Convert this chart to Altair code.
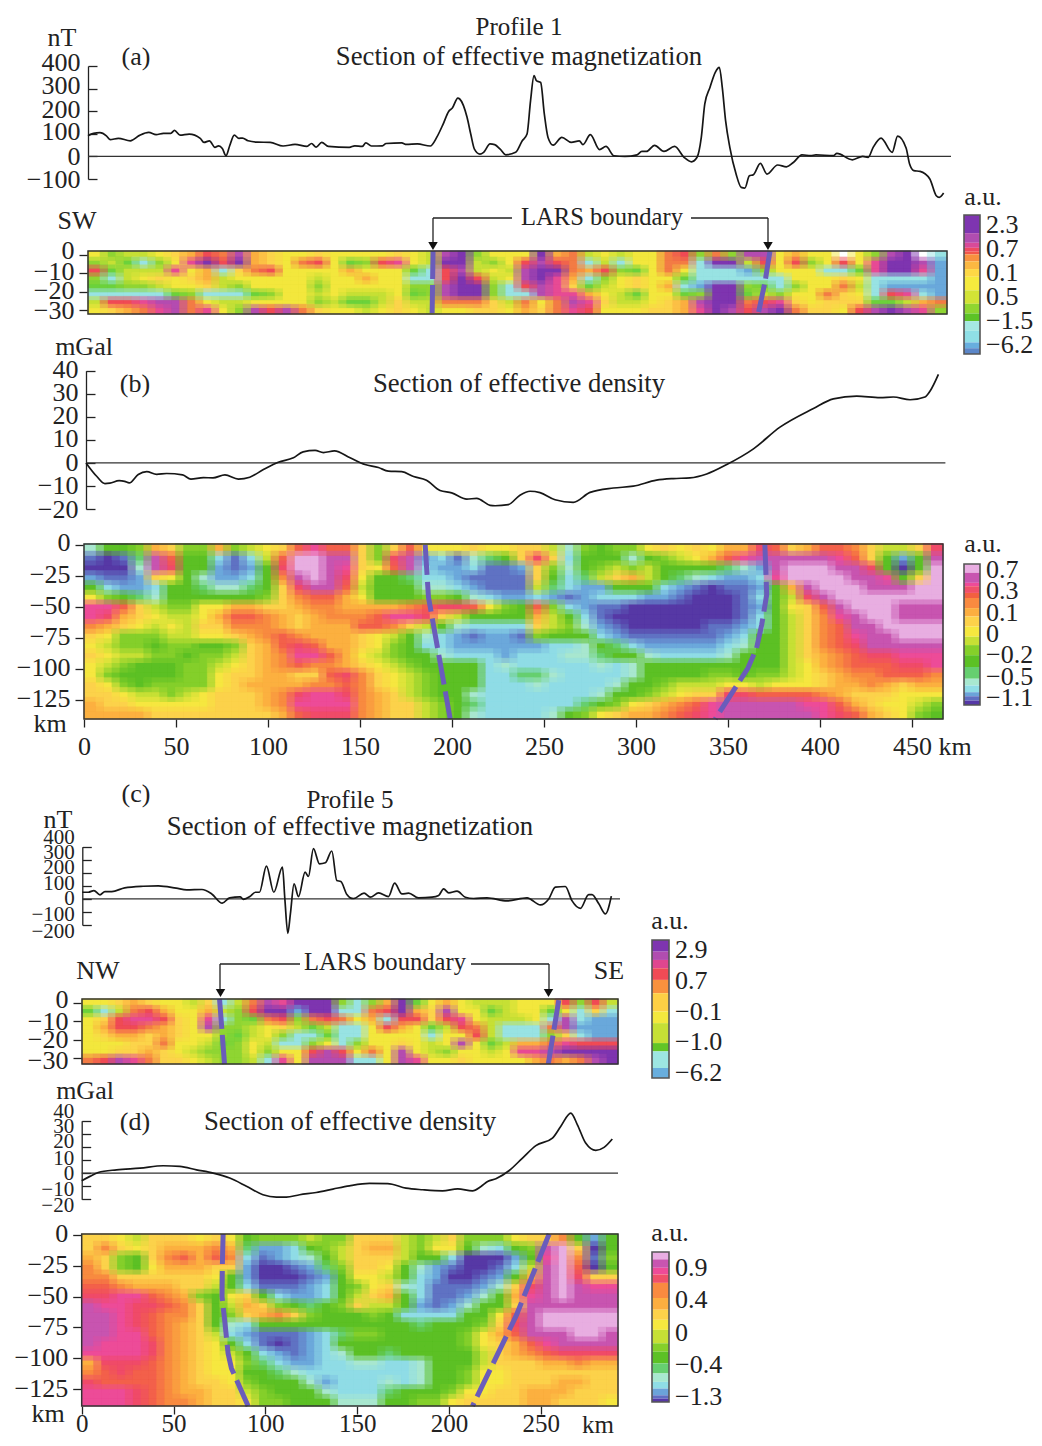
import altair as alt
import pandas as pd

W, H = 1026, 1430
FONT = "Liberation Serif"
INK = "#222222"
BOUNDARY = "#6a5cbb"

# ---------- colour classes ----------
DENS = dict(a="#5638a6", b="#5f72c4", c="#6ba8dc", d="#8fdde6", e="#a8e8d0", f="#66cf70", g="#5cc125", h="#85d02a",
            i="#c6e035", j="#f6e83f", k="#fdd24a", l="#fcb040", m="#f98a40", n="#f4604a", o="#f04a68", p="#ee4b98",
            q="#c855b0", r="#e9aee2")
MAG = dict(B="#6aa9dc", C="#98e3e3", E="#6bd23b", F="#8fd632", G="#c6e035", H="#f3e83d", I="#fdd44a", J="#fbae40",
           K="#f47c45", L="#f04a55", M="#e84a95", N="#b54cb0", O="#7e35b0", W="#ffffff")

# ---------- profile curves (km, value) ----------
a_km = [0,3,6.5,10,12,16.5,23,28,33,37,41,45,47,50,55,61,63,66,69,71,73,75,77,79.5,82,84,87,92,99,106,112.5,119,121.5,124,127,130.6,142,145,149,151,154,160,162,170.5,173,179,186,189.5,193,196,198,201,202,206,208,210,213,215,218.5,221,224,227,232.4,236,238.6,240.5,242.4,243.7,246,248,250,252.8,257.5,262.6,267,269,273,278,281.5,285.8,291.8,298.4,301,303.5,307.9,313,318.8,323.9,328,331,333.3,335.2,338,340.9,343.1,344.7,346.5,348.8,352.2,355,357,359.4,361.6,365.4,369,374.8,379.6,383.3,388,392.8,395.6,405,407,415.4,421,424,426.7,431,437,440,444.6,446.5,448.8,452.2,457.5,461,462.6,465]
a_nt = [91,102,105,91,74,80,69,93,106,96,102,102,115,94,99,80,62,69,40,47,35,3,47,94,80,81,69,63,62,46,53,44,57,41,62,44,40,47,44,60,46,47,57,60,53,55,46,84,143,199,214,258,254,173,99,32,10,18,55,52,32,7,18,69,99,246,357,335,327,187,84,50,84,62,69,52,96,30,44,3,0,7,22,22,49,22,44,-4,-24,-4,84,232,305,372,394,305,158,40,-78,-137,-140,-86,-81,-31,-78,-38,-46,-27,7,3,7,3,13,-15,0,-4,40,81,18,90,37,-34,-63,-66,-100,-174,-181,-162]
b_km = [0,5.8,10.3,13,18,21,23.5,28.4,33,38.4,43.8,52.5,57,63.8,69,75.5,82.8,89,96.4,104.5,112.7,118,124.5,129,135,143.5,151.6,158.9,164.3,171.6,178,185,192.4,198.7,206.9,212.3,219.6,222.3,229.5,235.8,241.3,246.7,254.9,264.8,273.9,286.6,297.4,310,319.2,328.2,337.3,348.2,362.7,377.1,395.3,406.1,418.8,431.5,438.7,447.8,455.9,458.7,463.2]
b_mgal = [0,-5.8,-9,-8.8,-7.7,-8,-8.7,-5,-3.8,-5,-4.6,-5.2,-7,-6.4,-6.5,-5.2,-7,-6.2,-2.9,0.3,2.2,4.8,5.4,4.5,5.2,2.2,-0.7,-2,-3.6,-3.8,-5.9,-7.5,-12,-13,-15.7,-15.4,-18.4,-18.6,-18.1,-14,-12.3,-12.9,-16,-17.1,-12.8,-10.9,-10.1,-7.5,-6.8,-6.5,-4.8,-0.7,6.1,15.5,23.6,27.8,29,28.3,28.6,27.4,28.6,31.2,38.4]
c_km = [0,3.3,6.3,9.6,12.3,16,23,33,41.3,51,56.7,65,70.3,76,80,85.7,87.5,91,94,96.2,100,104,108.7,110,111.6,113,115,117.4,121,122.8,125.5,128.8,132,135.5,138.2,140.4,143.7,145.5,147.3,153,156.4,160.9,166.3,169.6,173.6,177.2,182.6,189.9,193.5,196.2,199,203.5,208,212.5,219.8,230.6,241.5,248.8,253.3,256.9,262.3,265.9,270.5,275,276.8,280.5,284.1,287.3]
c_nt = [51,51,64,31,56,56,85,97,100,82,69,72,38,-33,8,15,-3,18,51,51,251,51,244,0,-264,-115,115,18,205,172,385,269,277,367,141,133,33,8,3,44,13,46,18,121,38,44,8,13,26,77,46,59,13,3,8,-15,8,-46,0,90,95,-13,-72,33,33,-38,-115,21]
d_km = [0,4.5,9,19,31.7,44.4,53.4,62.5,71.6,80.6,89.7,98.7,106,111.4,118.7,127.7,136.8,145.8,156.7,166.6,176.6,185.7,196.5,204.7,212.8,217.4,221,225.5,232.8,240,247.3,256.3,260.8,266.3,269.9,274.4,279.9,284.4,288.9]
d_mgal = [-5.9,-2.5,0.5,2.5,3.8,5.6,5.1,2.5,0,-3.8,-10,-16.5,-18.3,-18.3,-16.5,-14.8,-12.2,-9.7,-7.9,-8,-11.5,-12.7,-13.5,-12,-13.5,-10.2,-6.4,-4.3,2,11.5,21,26.7,35.6,45.8,36.9,22.9,17.3,19.6,26]

# ---------- LARS boundaries (km, depth) ----------
a_left = ([187.5, 187.0], [2, -32])
a_right = ([370.6, 368.3, 367.4, 364.2], [2, -12.3, -17, -32])
b_left = ([185.4, 187.2, 199], [0, -42, -140])
b_right = ([370, 371, 368.3, 365.5, 360.8, 355.2, 343], [0, -40, -64, -83, -99, -112, -140])
c_left = ([74.8, 77.5], [2, -33.1])
c_right = ([259.3, 253.6], [1.4, -33])
d_left = ([77, 76.6, 76.4, 77.9, 79.7, 81.5, 90.6], [0.8, -23, -50, -70, -96, -108, -138.7])
d_right = ([254.5, 236.4, 212.8], [0.8, -66, -138.7])

# ---------- section grids: one letter per cell, colour class ----------
grid_a = [
 "HFGGHIJLKNJIHHIHHHHIHGNOFHH"+"HOJKGHGHHKLFKFNNHJHHWHFNOWC",
 "FGECFHMOLOJIHKLHEFLMHGOOGFH"+"LNLKCGCHHKKCOOGLHLFHLHMOONB",
 "LEGGGMHJCIKLHHHHJHHHECLNGHG"+"NOOKJLFEHKHCCCBFHHHCCEMOOMB",
 "FCGHIHIJGHHHHHGHHJHHCCLOLGH"+"NOMJCFHIHHECCCCCCHHHIHCCCCB",
 "EEFFGHHIGFHHHHFHHHHHFFNOOFC"+"LNMIEGHIHJCBOOFECFHHKGCBBBB",
 "CCCCCEFCCCEFHHGHGGGHEFNOOFC"+"CNMMJHGEHHEFOOEGFHHKIHCLMCB",
 "GLLMNNKHGGHHHHFGEEGIGGKKKIG"+"KHKNMIGGHIJNOOKLMIHIIIEEGJK",
 "HIJKMNKMHFNLNKIHHGHIHGHHIIH"+"JIKMLHHHIIJMONLNOKIIHLNONMF",
]
grid_b = [
 "egghlkhhlhijknpnnkhknjjjkjjk"+"kiehghhjkjkjllonklnnmkiiko",
 "babfqnggdbdinrrqqkhoqcdbefgk"+"okdgggeghijlnpqqqqqpnkgcgq",
 "aaaeqoggcbcgorrqpkjnqdccdbbc"+"kheghihiggggfecqrrrqqogagr",
 "cbbckjgeccdgmqrqojggfddcbbbb"+"kgdfikligfedccdprrrrqqpgkr",
 "gdccdggfeefgkoqqnigggeedcbbb"+"ifdccgggdcbabbcglqrrrqqqrr",
 "jhgfegggggghkmnnljggghhgedcc"+"dcbcdddccbaaabdgioqrrrrrrr",
 "ppnkihhjjllkklmmllllmnoonjhg"+"nhdcbbaaaaaaabcgjknqrrrqqq",
 "polkjiijlnnmlklmmmnppokigggg"+"ligdbaaaaaaaabdgikmpqrrqqq",
 "mlkjijikkmmmlklllnnmkigedddd"+"kihecbaaaaabbcdgikmnqqrrrr",
 "kjhhhiijjklmnmlllkjigedcbccb"+"hgggdcbbbbbbcdggikmnpqqrrr",
 "jihhghhgghklnonllkjhgddccccc"+"cddegfdcccccdeggikmnoqqqqq",
 "kjiihhghhiklmppnljihggedddcd"+"ddeefggeddddegggiklmnooppp",
 "jihggghhijklmnmmlkjihggggded"+"ddddede"+"ggggggggg"+"ijlmnnnoop",
 "jhgggghhjkkllkknomkjihgggddf"+"feddddegggghhghhijklmmnnnm",
 "kjhghhhhjkllllmmnmkjihgggddd"+"eddddegghiiijjijjjkllmlkll",
 "kkjiihijkkklmoppomlkihggeddd"+"ddddegghijkkoonnnnmlkkkjjj",
 "lkkjjjjjkkklmppppmlkkihgfddd"+"dddfghjklmnpqqqqqppnlkjjih",
 "llllkkkkkkkklnooomlkkihgeddd"+"deghjkllmnopqqqqqqponlkjhg",
]
grid_c = [
 "HHIJIHHGICGKNMOOOF"+"CFJOEHJHGGGHHHLFLG",
 "ECGKLJHHJGFLOOBOOC"+"CKLOJINHHEGHHEHCIC",
 "HILMMLIHMCFEKLFKLK"+"HJCLLILMHGGGHCNCBB",
 "HJLLKJIHNFFGHIGEGC"+"CHLJHEGLKGCCCKNBBB",
 "HIJJIJIHHFEGHFCCEC"+"CHHHHCHHLGCCCFICBB",
 "HHHIIKHHGEFHGCCFHC"+"FHHIHGHNHEGJJKMLLL",
 "HHIIJIHGFFFHFHHLNL"+"HKHNHGFHHGHMMNOOOO",
 "KLNMKIIHGFFGCMHNNN"+"CCHNMHHIHHHHJKJKNO",
]
grid_d = [
 "kkjikkkjkjghhhihhk"+"kkihikhhhjkkmgcg",
 "kmkjklllmlfccdghik"+"llihjjgedghqrkag",
 "lkhgkmnlnmdbcdegik"+"kkiggdaaacgprmbh",
 "mkhgjlllkkcaabcfhk"+"kjgecbaabdiqrnag",
 "mmkkkkkkjgcaaabcgj"+"jigdcaabcglqrokk",
 "nnmlllkkigdbbbcdgh"+"jkedbbbcekoqrqpp",
 "ooppnmlhgjkgdccdgi"+"klgdbbceglpqrqqq",
 "qppoonmkgilkhgfghk"+"iigcbceggkqqqqqq",
 "qqponmmkghklmkhggg"+"hgddddggjnqrrrrr",
 "qqponmlkgedggggggg"+"gggfggghkoqrrrrr",
 "qqppnmlkidcbbbcdfh"+"hggggghjlnqqqrrq",
 "qpppomlkjgdbabcdgg"+"gggggghjklnpqqqq",
 "ppppomlkjigdcbcdeg"+"gfgggggiklmnoooo",
 "looonmlkjjhfdccdde"+"eddegggikkkllmll",
 "mnonnmlkjjggfedddd"+"dddegghjjkkkkkkk",
 "onnnnmlkkjhgggecdd"+"dedegghjjkkkllkk",
 "ppponmllkkihgggedd"+"dfggghjjkklllkkk",
 "ppponmmlkkjhhgggee"+"egghhjkkkkllkkkj",
]

# ---------- colour bars: (colour, relative height), labels ----------
bar_a = [("#7e35b0",47),("#b04db0",25),("#d84a98",13),("#ee4a60",10),("#f2574a",7),("#f8913e",18),("#fbb842",20),("#fdd845",20),("#f5ea3d",35),("#d2e336",35),("#90d630",25),("#5cc326",20),("#a5e8e2",25),("#8fdfe6",30),("#68aede",15),("#5b86c8",15)]
bar_b = [("#e9aee2",26),("#c855b0",30),("#ee4b98",10),("#f0506a",20),("#f26040",15),("#f98a40",30),("#fcae40",25),("#fdd24a",30),("#f6e83f",30),("#c6e035",25),("#85d02a",30),("#5cc125",35),("#66cf70",35),("#a8e8d0",20),("#8fdde6",20),("#6ba3d9",12),("#5f6fc2",13),("#5638a6",13)]
bar_c = [("#7e35b0",35),("#b04db0",25),("#e0468f",25),("#f04a55",35),("#f8913e",40),("#fdd045",55),("#f3e83d",35),("#c6e035",60),("#62c526",25),("#9de6e2",50),("#68aede",30)]
bar_d = [("#e9aee2",22),("#c855b0",25),("#ee4b98",20),("#f0506a",25),("#f98a40",45),("#fcae40",35),("#fdd24a",30),("#f6e83f",30),("#c6e035",40),("#85d02a",25),("#5cc125",35),("#66cf70",30),("#a8e8d0",25),("#8fdde6",20),("#6ba3d9",20),("#5f6fc2",10),("#5638a6",10)]
lab_a = ["2.3","0.7","0.1","0.5","\u22121.5","\u22126.2"]
lab_b = ["0.7","0.3","0.1","0","\u22120.2","\u22120.5","\u22121.1"]
lab_c = ["2.9","0.7","\u22120.1","\u22121.0","\u22126.2"]
lab_d = ["0.9","0.4","0","\u22120.4","\u22121.3"]


def PX(p):
    return p - 8


def PY(p):
    return p - 8


ONE = alt.Data(values=[{}])
layers = []


def add(ch):
    layers.append(ch)


def text(s, x, y, size=26, align="center"):
    add(alt.Chart(ONE).mark_text(text=s, font=FONT, fontSize=size, color=INK, align=align, baseline="middle")
        .encode(x=alt.value(PX(x)), y=alt.value(PY(y))))


def hline(x0, x1, y, color=INK, w=1.3):
    add(alt.Chart(ONE).mark_rule(color=color, strokeWidth=w)
        .encode(x=alt.value(PX(x0)), x2=alt.value(PX(x1)), y=alt.value(PY(y))))


def vline(x, y0, y1, color=INK, w=1.3):
    add(alt.Chart(ONE).mark_rule(color=color, strokeWidth=w)
        .encode(x=alt.value(PX(x)), y=alt.value(PY(y0)), y2=alt.value(PY(y1))))


def arrow(x, y):
    add(alt.Chart(ONE).mark_point(shape="triangle-down", filled=True, color="#111111", size=90, opacity=1)
        .encode(x=alt.value(PX(x)), y=alt.value(PY(y))))


def frame(x0, x1, y0, y1, color="#333333", w=1.5):
    add(alt.Chart(ONE).mark_rect(fill=None, filled=False, stroke=color, strokeWidth=w)
        .encode(x=alt.value(PX(x0)), x2=alt.value(PX(x1)), y=alt.value(PY(y0)), y2=alt.value(PY(y1))))


def off_cond(pairs):
    return {"condition": [{"test": f"datum.value==={v}", "value": o} for v, o in pairs], "value": 0}


def curve(km, val, xscale, yscale, ticks, offsets, axis_x, size, pad=-17):
    df = pd.DataFrame({"km": km, "v": val})
    add(alt.Chart(df).mark_line(color="#161616", strokeWidth=1.7, interpolate="monotone").encode(
        x=alt.X("km:Q", scale=xscale, axis=None),
        y=alt.Y("v:Q", scale=yscale, axis=alt.Axis(
            orient="right", offset=PX(axis_x) - W, values=ticks, title=None, grid=False, format="d",
            labelFont=FONT, labelFontSize=size, labelColor=INK, labelAlign="right", labelPadding=pad,
            labelOffset=off_cond(list(zip(ticks, offsets))), labelFlush=False, labelOverlap=False, labelBound=False,
            tickSize=9, tickColor=INK, tickWidth=1.3, domainColor=INK, domainWidth=1.3))))


def zero_line(x0, x1, xscale, yscale):
    df = pd.DataFrame({"km": [x0, x1], "v": [0, 0]})
    add(alt.Chart(df).mark_line(color="#333333", strokeWidth=1.2).encode(
        x=alt.X("km:Q", scale=xscale, axis=None), y=alt.Y("v:Q", scale=yscale, axis=None)))


def heat(grid, pal, xscale, yscale, kmax, dtop, dbot):
    """Each cell is drawn four times, a quarter cell to each side, so that the edges between classes soften."""
    nr, nc = len(grid), max(len(r) for r in grid)
    dx = kmax / nc
    dy = (dbot - dtop) / nr
    passes = [(-0.25, -0.25, 1.0), (0.25, -0.25, 1 / 2), (-0.25, 0.25, 1 / 3), (0.25, 0.25, 1 / 4)]
    for sxx, syy, op in passes:
        rows = []
        for j, row in enumerate(grid):
            for i, c in enumerate(row):
                x0 = 0 if i == 0 else (i + sxx) * dx
                x1 = kmax if i == nc - 1 else (i + 1 + sxx) * dx
                d0 = dtop if j == 0 else dtop + (j + syy) * dy
                d1 = dbot if j == nr - 1 else dtop + (j + 1 + syy) * dy
                rows.append({"x0": x0, "x1": x1, "d0": d0, "d1": d1, "hex": pal[c]})
        base = op == 1.0
        mk = alt.Chart(pd.DataFrame(rows)).mark_rect(opacity=op, strokeWidth=0.8 if base else 0)
        enc = dict(x=alt.X("x0:Q", scale=xscale, axis=None), x2="x1:Q",
                   y=alt.Y("d0:Q", scale=yscale, axis=None), y2="d1:Q",
                   fill=alt.Fill("hex:N", scale=None, legend=None))
        if base:
            enc["stroke"] = alt.Stroke("hex:N", scale=None, legend=None)
        add(mk.encode(**enc))


def boundary(line, xscale, yscale, dash, xaxis=None, yaxis=None):
    df = pd.DataFrame({"km": line[0], "d": line[1], "i": range(len(line[0]))})
    add(alt.Chart(df).mark_line(color=BOUNDARY, strokeWidth=5, strokeDash=dash).encode(
        x=alt.X("km:Q", scale=xscale, axis=xaxis),
        y=alt.Y("d:Q", scale=yscale, axis=yaxis),
        order="i:Q"))


def section_yaxis(x, ticks, offsets, size=26):
    return alt.Axis(orient="left", offset=-PX(x), values=ticks, title=None, grid=False, domain=False, format="d",
                    labelFont=FONT, labelFontSize=size, labelColor=INK, labelPadding=5,
                    labelOffset=off_cond(list(zip(ticks, offsets))),
                    labelOverlap=False, labelBound=False, labelFlush=False,
                    tickSize=9, tickColor=INK, tickWidth=1.3)


def section_xaxis(y, ticks, size, pad=6):
    return alt.Axis(orient="bottom", offset=PY(y) - H, values=ticks, title=None, grid=False, domain=False, format="d",
                    labelFont=FONT, labelFontSize=size, labelColor=INK, labelPadding=pad,
                    labelOverlap=False, labelBound=False, labelFlush=False,
                    tickSize=8, tickColor=INK, tickWidth=1.3)


def colorbar(bands, labels, x0, x1, top, bot, ltop, lbot, lx, size=26):
    tot = sum(b[1] for b in bands)
    rows, acc = [], 0
    for c, h in bands:
        rows.append({"y0": acc, "y1": acc + h, "hex": c})
        acc += h
    add(alt.Chart(pd.DataFrame(rows)).mark_rect().encode(
        x=alt.value(PX(x0)), x2=alt.value(PX(x1)),
        y=alt.Y("y0:Q", scale=alt.Scale(domain=[0, tot], range=[PY(top), PY(bot)], nice=False, zero=False), axis=None),
        y2="y1:Q",
        fill=alt.Fill("hex:N", scale=None, legend=None)))
    frame(x0, x1, top, bot, "#555555", 1.6)
    add(alt.Chart(pd.DataFrame({"lab": labels})).mark_text(font=FONT, fontSize=size, color=INK, align="left", baseline="middle").encode(
        x=alt.value(PX(lx)),
        y=alt.Y("lab:N", sort=None, axis=None,
                scale=alt.Scale(type="point", domain=labels, range=[PY(ltop), PY(lbot)], padding=0)),
        text="lab:N"))


def sx(kmax, x0, x1):
    return alt.Scale(domain=[0, kmax], range=[PX(x0), PX(x1)], nice=False, zero=False)


def sy(lo, hi, ylo, yhi):
    return alt.Scale(domain=[lo, hi], range=[PY(ylo), PY(yhi)], nice=False, zero=False)


T = 26.7
L = 24.6
AU = 26
# ---------- (a) magnetic curve ----------
s = sx(469, 88, 951)
y = sy(-100, 400, 179, 66)
zero_line(0, 469, s, y)
curve(a_km, a_nt, s, y, [400, 300, 200, 100, 0, -100], [-4, -3, -2, -2, 0, 0], 88, 26)
text("Profile 1", 519, 27, 25)
text("Section of effective magnetization", 519, 57, T)
text("nT", 62, 38)
text("(a)", 136, 57)

# section a
KA = 466.8
s = sx(KA, 88, 947)
y = sy(-32, 2, 314, 251)
heat(grid_a, MAG, s, y, KA, 2, -32)
boundary(a_left, s, y, [28, 6], yaxis=section_yaxis(88, [0, -10, -20, -30], [-4, -2, -1, 0]))
boundary(a_right, s, y, [28, 6])
frame(88, 947, 251, 314)
text("SW", 77, 221)
text("LARS boundary", 602, 218, L)
hline(433, 512, 218)
hline(691, 768, 218)
vline(433, 218, 245)
vline(768, 218, 245)
arrow(433, 246)
arrow(768, 246)
colorbar(bar_a, lab_a, 964, 980, 215, 354, 225, 345, 986)
text("a.u.", 983, 197, AU)

# ---------- (b) gravity curve ----------
s = sx(469.5, 86, 950)
y = sy(-20, 40, 509, 370.7)
zero_line(0, 467, s, y)
curve(b_km, b_mgal, s, y, [40, 30, 20, 10, 0, -10, -20], [-1, -1, -1, -1, 0, 0, 0], 86, 26)
text("mGal", 84, 347)
text("(b)", 135, 384)
text("Section of effective density", 519, 384, T)

KB = 466.8
s = sx(KB, 84, 943)
y = sy(-140, 1, 719, 543.7)
heat(grid_b, DENS, s, y, KB, 1, -140)
boundary(b_left, s, y, [30, 7], xaxis=section_xaxis(719, [0, 50, 100, 150, 200, 250, 300, 350, 400, 450], 26),
         yaxis=section_yaxis(84, [0, -25, -50, -75, -100, -125], [-2] * 6))
boundary(b_right, s, y, [30, 7])
frame(84, 943, 544, 719)
text("km", 50, 724)
text("km", 955, 747)
colorbar(bar_b, lab_b, 964, 980, 564, 705, 570, 698, 986)
text("a.u.", 983, 544, AU)

# ---------- (c) magnetic curve ----------
s = sx(292, 82.3, 620)
y = sy(-200, 400, 925, 846.7)
zero_line(0, 292, s, y)
curve(c_km, c_nt, s, y, [400, 300, 200, 100, 0, -100, -200], [-9, -7, -5, -2, 0, 3, 6], 82.3, 21, pad=-17)
text("(c)", 136, 794)
text("Profile 5", 350, 800, 25)
text("Section of effective magnetization", 350, 827, T)
text("nT", 58, 820)

KC = 291.5
s = sx(KC, 82, 618)
y = sy(-33.1, 2, 1064, 999)
heat(grid_c, MAG, s, y, KC, 2, -33.1)
boundary(c_left, s, y, [30, 6], yaxis=section_yaxis(82, [0, -10, -20, -30], [-3, 0, 0, 2]))
boundary(c_right, s, y, [30, 6])
frame(82, 618, 999, 1064)
text("NW", 98, 971)
text("SE", 609, 971)
text("LARS boundary", 385, 963, L)
hline(220, 300, 964)
hline(471, 549, 964)
vline(220, 964, 992)
vline(549, 964, 992)
arrow(220.5, 993)
arrow(548.5, 993)
colorbar(bar_c, lab_c, 652, 669, 940, 1078, 950, 1073, 675)
text("a.u.", 670, 921, AU)

# ---------- (d) gravity curve ----------
s = sx(292, 81.7, 618)
y = sy(-20, 40, 1199.3, 1120.7)
zero_line(0, 292, s, y)
curve(d_km, d_mgal, s, y, [40, 30, 20, 10, 0, -10, -20], [-9, -7, -5, -2, 0, 3, 6], 81.7, 21, pad=-17)
text("mGal", 85, 1091)
text("(d)", 135, 1122)
text("Section of effective density", 350, 1122, T)

KD = 292
s = sx(KD, 81.7, 618)
y = sy(-138.7, 0.8, 1406, 1234)
heat(grid_d, DENS, s, y, KD, 0.8, -138.7)
boundary(d_left, s, y, [30, 7], xaxis=section_xaxis(1406, [0, 50, 100, 150, 200, 250], 25, pad=-3),
         yaxis=section_yaxis(81.7, [0, -25, -50, -75, -100, -125], [-1] * 6))
boundary(d_right, s, y, [30, 7])
frame(81.7, 618, 1234, 1406)
text("km", 48, 1414)
text("km", 598, 1425, 25)
colorbar(bar_d, lab_d, 652, 669, 1252, 1402, 1268, 1397, 675)
text("a.u.", 670, 1233, AU)

chart = (
    alt.layer(*layers)
    .resolve_scale(x="independent", y="independent")
    .resolve_axis(x="independent", y="independent")
    .properties(width=W, height=H, autosize=alt.AutoSizeParams(type="none"), padding=0, background="white")
    .configure_view(stroke=None)
)
chart.save("out.html", embed_options={"renderer": "svg", "actions": False})
